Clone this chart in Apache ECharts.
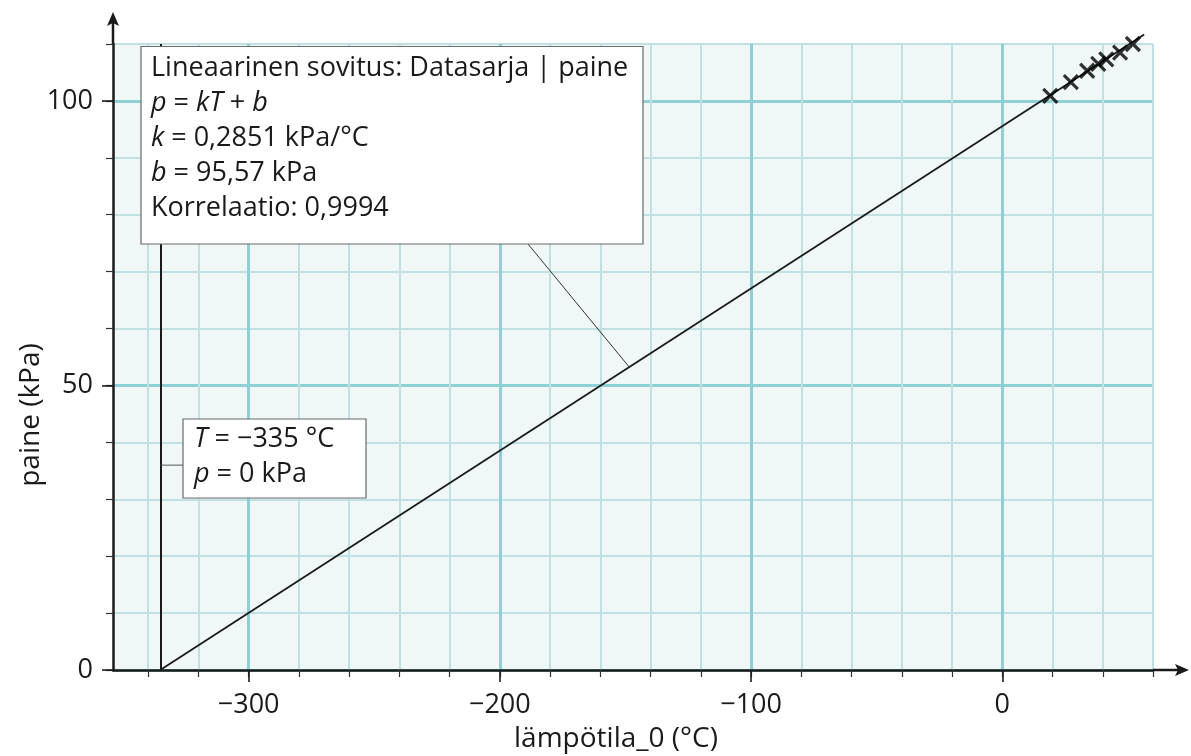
<!DOCTYPE html>
<html>
<head>
<meta charset="utf-8">
<script src="https://cdn.jsdelivr.net/npm/echarts@6/dist/echarts.min.js"></script>
<style>
  html, body { margin: 0; padding: 0; background: #ffffff; }
  #chart { width: 1191px; height: 756px; }
</style>
</head>
<body>
<div id="chart"></div>
<script>
// Measured gas pressure against temperature
const temperatures = [19.1, 27.3, 33.8, 38.2, 41.4, 46.9, 52.0];
const pressures = [100.9, 103.3, 105.3, 106.5, 107.3, 108.5, 110.0];

// Linear fit p = kT + b
const fitK = 0.2851;
const fitB = 95.57;
const fitStartT = -335.2;
const fitEndT = 56.5;
const zeroT = -335;

// Axis ranges and ticks
const xRange = [-354, 60];
const yRange = [0, 110];
const xMinorTicks = [-340, -320, -300, -280, -260, -240, -220, -200, -180, -160, -140, -120, -100, -80, -60, -40, -20, 0, 20, 40, 60];
const xMajorTicks = [-300, -200, -100, 0];
const yMinorTicks = [0, 10, 20, 30, 40, 50, 60, 70, 80, 90, 100, 110];
const yMajorTicks = [0, 50, 100];

const FONT = 'Open Sans';
const INK = '#1a1a1a';

const chart = echarts.init(document.getElementById('chart'), null, { renderer: 'canvas' });

const fitLine = [
  [fitStartT, fitK * fitStartT + fitB],
  [fitEndT, fitK * fitEndT + fitB]
];
const points = temperatures.map((t, i) => [t, pressures[i]]);
const fmtMinus = v => String(v).replace('-', '\u2212');

const option = {
  animation: false,
  backgroundColor: '#ffffff',
  grid: {
    left: 113, right: 38, top: 44, bottom: 86,
    outerBoundsMode: 'none', containLabel: false,
    show: true, backgroundColor: '#f0f7f7', borderWidth: 0
  },
  xAxis: [
    {
      type: 'value', min: xRange[0], max: xRange[1],
      name: 'lämpötila_0 (°C)', nameLocation: 'middle', nameGap: 55,
      nameTextStyle: { fontFamily: FONT, fontSize: 28, color: INK, padding: [0, 34, 0, 0] },
      axisLine: { show: true, onZero: false, lineStyle: { color: INK, width: 2.5 } },
      axisTick: { show: true, length: 7, customValues: xMinorTicks, lineStyle: { color: '#333', width: 1.2 } },
      axisLabel: { show: false },
      splitLine: { show: true, lineStyle: { color: '#c0e1e3', width: 2 } }
    },
    {
      type: 'value', min: xRange[0], max: xRange[1], position: 'bottom',
      axisLine: { show: false, onZero: false },
      axisTick: { show: true, length: 12, customValues: xMajorTicks, lineStyle: { color: INK, width: 1.6 } },
      axisLabel: {
        show: true, customValues: xMajorTicks, margin: 22,
        fontFamily: FONT, fontSize: 27, color: INK, formatter: fmtMinus
      },
      splitLine: { show: true, lineStyle: { color: '#8fd0d6', width: 3 } }
    }
  ],
  yAxis: [
    {
      type: 'value', min: yRange[0], max: yRange[1],
      name: 'paine (kPa)', nameLocation: 'middle', nameGap: 68, nameRotate: 90,
      nameTextStyle: { fontFamily: FONT, fontSize: 28, color: INK, padding: [0, 116, 0, 0] },
      axisLine: { show: true, onZero: false, lineStyle: { color: INK, width: 2.5 } },
      axisTick: { show: true, length: 7, customValues: yMinorTicks, lineStyle: { color: '#333', width: 1.2 } },
      axisLabel: { show: false },
      splitLine: { show: true, lineStyle: { color: '#c0e1e3', width: 2 } }
    },
    {
      type: 'value', min: yRange[0], max: yRange[1], position: 'left',
      axisLine: { show: false, onZero: false },
      axisTick: { show: true, length: 11, customValues: yMajorTicks, lineStyle: { color: INK, width: 1.6 } },
      axisLabel: { show: true, customValues: yMajorTicks, margin: 20, fontFamily: FONT, fontSize: 27, color: INK },
      splitLine: { show: true, lineStyle: { color: '#8fd0d6', width: 3 } }
    }
  ],
  series: [
    {
      type: 'line', name: 'sovitus', xAxisIndex: 0, yAxisIndex: 0,
      data: fitLine, showSymbol: false, clip: false, silent: true,
      lineStyle: { color: INK, width: 1.8 },
      markLine: {
        silent: true, symbol: ['none', 'none'], label: { show: false },
        lineStyle: { color: INK, width: 2, type: 'solid' },
        data: [{ xAxis: zeroT }]
      },
      z: 3
    },
    {
      type: 'scatter', name: 'paine', xAxisIndex: 0, yAxisIndex: 0,
      data: points, clip: false,
      symbol: 'path://M0,0L10,10M10,0L0,10', symbolSize: 14,
      itemStyle: { color: 'rgba(0,0,0,0)', borderColor: '#000', borderWidth: 3.2 },
      z: 4
    }
  ]
};

chart.setOption(option);

// Annotations, axis arrows and leader lines
const px = (x, y) => chart.convertToPixel({ xAxisIndex: 0, yAxisIndex: 0 }, [x, y]);
const xEnd = px(xRange[1], yRange[0]);
const yEnd = px(xRange[0], yRange[1]);

const leaderT = -148.5;
const leaderAnchor = px(leaderT, fitK * leaderT + fitB);
const zeroAnchor = px(zeroT, 36);

const box1 = { x: 141, y: 46.5, w: 502, h: 197.5 };
const box2 = { x: 183, y: 419, w: 183, h: 79 };

const richStyles = {
  n: { fontFamily: FONT, fontSize: 27, fill: INK, lineHeight: 35 },
  i: { fontFamily: FONT, fontSize: 27, fill: INK, fontStyle: 'italic', lineHeight: 35 }
};

chart.setOption({
  graphic: [
    // x axis extension and arrow
    { type: 'line', z: 50, shape: { x1: xEnd[0], y1: xEnd[1], x2: xEnd[0] + 28, y2: xEnd[1] },
      style: { stroke: INK, lineWidth: 2.5 } },
    { type: 'polygon', z: 51,
      shape: { points: [[xEnd[0] + 36, xEnd[1]], [xEnd[0] + 22, xEnd[1] - 6], [xEnd[0] + 25, xEnd[1]], [xEnd[0] + 22, xEnd[1] + 6]] },
      style: { fill: INK } },
    // y axis extension and arrow
    { type: 'line', z: 50, shape: { x1: yEnd[0], y1: yEnd[1], x2: yEnd[0], y2: yEnd[1] - 24 },
      style: { stroke: INK, lineWidth: 2.5 } },
    { type: 'polygon', z: 51,
      shape: { points: [[yEnd[0], yEnd[1] - 32], [yEnd[0] - 6, yEnd[1] - 18], [yEnd[0], yEnd[1] - 21], [yEnd[0] + 6, yEnd[1] - 18]] },
      style: { fill: INK } },
    // leader from the fit box to the line
    { type: 'line', z: 60, shape: { x1: 528, y1: box1.y + box1.h, x2: leaderAnchor[0], y2: leaderAnchor[1] },
      style: { stroke: '#333', lineWidth: 1 } },
    // fit box
    { type: 'rect', z: 70, shape: { x: box1.x, y: box1.y, width: box1.w, height: box1.h },
      style: { fill: '#ffffff', stroke: '#6b6b6b', lineWidth: 1.2 } },
    { type: 'text', z: 71, x: 151, y: 51,
      style: {
        text: [
          '{n|Lineaarinen sovitus: Datasarja | paine}',
          '{i|p}{n| = }{i|kT}{n| + }{i|b}',
          '{i|k}{n| = 0,2851 kPa/°C}',
          '{i|b}{n| = 95,57 kPa}',
          '{n|Korrelaatio: 0,9994}'
        ].join('\n'),
        rich: richStyles, fill: INK, font: '27px ' + FONT,
        verticalAlign: 'top', align: 'left'
      } },
    // leader from the zero-pressure box to the vertical line
    { type: 'line', z: 60, shape: { x1: zeroAnchor[0], y1: zeroAnchor[1], x2: box2.x, y2: zeroAnchor[1] },
      style: { stroke: '#555', lineWidth: 1 } },
    // zero-pressure box
    { type: 'rect', z: 70, shape: { x: box2.x, y: box2.y, width: box2.w, height: box2.h },
      style: { fill: '#ffffff', stroke: '#6b6b6b', lineWidth: 1.2 } },
    { type: 'text', z: 71, x: 194, y: 422,
      style: {
        text: [
          '{i|T}{n| = \u2212335 °C}',
          '{i|p}{n| = 0 kPa}'
        ].join('\n'),
        rich: richStyles, fill: INK, font: '27px ' + FONT,
        verticalAlign: 'top', align: 'left'
      } }
  ]
});
</script>
</body>
</html>
